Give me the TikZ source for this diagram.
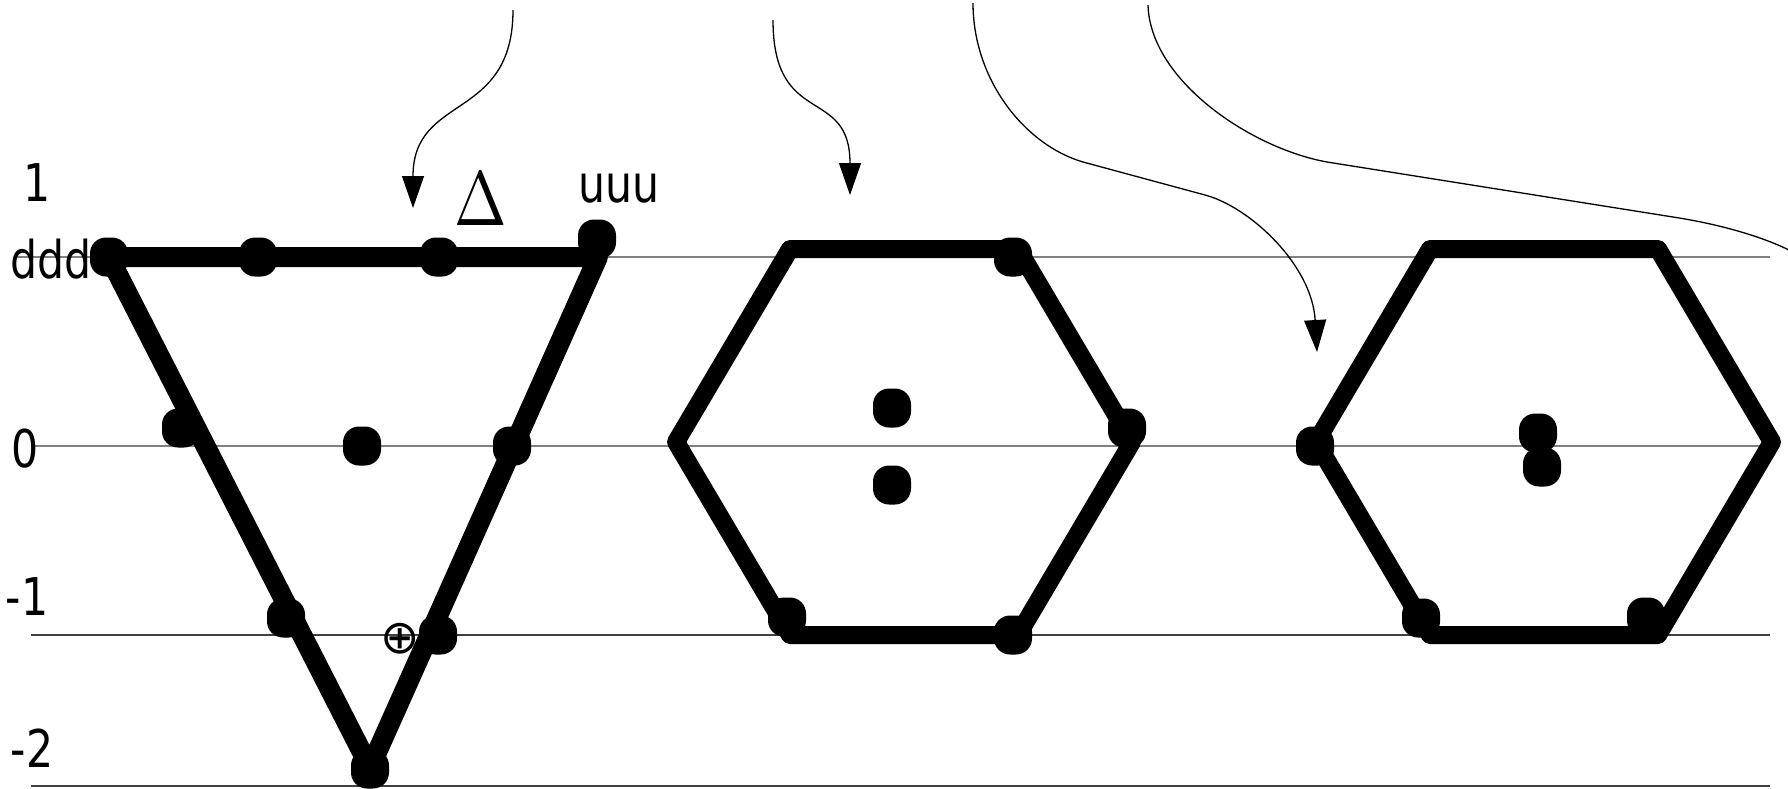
\documentclass[tikz,border=0pt]{standalone}
\usepackage[no-math]{fontspec}
\setmainfont{DejaVu Sans}
\usetikzlibrary{arrows.meta}
\definecolor{lvllight}{RGB}{128,128,128}
\definecolor{lvldark}{RGB}{64,64,64}
\begin{document}
\begin{tikzpicture}[x=1pt,y=-1pt,
  lvl/.style={line width=1.6pt},
  shapeedge/.style={line width=18pt, line join=round},
  triedge/.style={line width=20pt, line join=round},
  dotnode/.style={rectangle, fill=black, rounded corners=16pt, minimum width=38pt, minimum height=39pt, inner sep=0pt},
  curvearrow/.style={line width=1.3pt, -{Triangle[length=32pt,width=22pt]}},
  lab/.style={inner sep=0pt, anchor=base, font=\fontsize{52}{52}\selectfont},
]
\clip (0,0) rectangle (1788,788);
\fill[white] (0,0) rectangle (1788,788);

% level lines
\coordinate (l1a) at (14,257);  \coordinate (l1b) at (1770,257);
\coordinate (l0a) at (31,446);  \coordinate (l0b) at (1770,446);
\coordinate (lm1a) at (31,635); \coordinate (lm1b) at (1770,635);
\coordinate (lm2a) at (31,786); \coordinate (lm2b) at (1770,786);
\draw[lvl, lvllight] (l1a) -- (l1b);
\draw[lvl, lvllight] (l0a) -- (l0b);
\draw[lvl, lvldark] (lm1a) -- (lm1b);
\draw[lvl, lvldark] (lm2a) -- (lm2b);

% triangle
\coordinate (tA) at (109,257);
\coordinate (tB) at (598,257);
\coordinate (tC) at (370,768);
\draw[triedge] (tA) -- (tB) -- (tC) -- cycle;

% hexagon 1
\coordinate (h1l) at (676,442);
\coordinate (h1tl) at (790,249);
\coordinate (h1tr) at (1018,249);
\coordinate (h1r) at (1132,442);
\coordinate (h1br) at (1018,635);
\coordinate (h1bl) at (790,635);
\draw[shapeedge] (h1l) -- (h1tl) -- (h1tr) -- (h1r) -- (h1br) -- (h1bl) -- cycle;

% hexagon 2
\coordinate (h2l) at (1316,442);
\coordinate (h2tl) at (1430,249);
\coordinate (h2tr) at (1658,249);
\coordinate (h2r) at (1772,442);
\coordinate (h2br) at (1658,635);
\coordinate (h2bl) at (1430,635);
\draw[shapeedge] (h2l) -- (h2tl) -- (h2tr) -- (h2r) -- (h2br) -- (h2bl) -- cycle;

% dots on triangle
\node[dotnode] (t1) at (109,257) {};
\node[dotnode] (t2) at (258,257) {};
\node[dotnode] (t3) at (439,257) {};
\node[dotnode] (t4) at (597,239) {};
\node[dotnode] (t5) at (181,428) {};
\node[dotnode] (t6) at (362,446) {};
\node[dotnode] (t7) at (512,446) {};
\node[dotnode] (t8) at (286,618) {};
\node[dotnode] (t9) at (438,635) {};
\node[dotnode] (t10) at (370,769) {};

% dots on hexagon 1
\node[dotnode] (p1) at (1013,257) {};
\node[dotnode] (p2) at (1127,428) {};
\node[dotnode] (p3) at (892,408) {};
\node[dotnode] (p4) at (892,485) {};
\node[dotnode] (p5) at (787,617) {};
\node[dotnode] (p6) at (1013,635) {};

% dots on hexagon 2
\node[dotnode] (q1) at (1315,446) {};
\node[dotnode] (q2) at (1538,433) {};
\node[dotnode] (q3) at (1542,467) {};
\node[dotnode] (q4) at (1421,618) {};
\node[dotnode] (q5) at (1646,617) {};

% labels
\node[lab] (n1) at (37,201) {\scalebox{0.82}[1]{1}};
\node[lab] (nddd) at (51,278) {\scalebox{0.82}[1]{ddd}};
\node[lab] (n0) at (25,467) {\scalebox{0.82}[1]{0}};
\node[lab] (nm1) at (27,615) {\scalebox{0.82}[1]{-1}};
\node[lab] (nm2) at (32,767) {\scalebox{0.82}[1]{-2}};
\node[lab] (nuuu) at (619,202) {\scalebox{0.82}[1]{uuu}};
\node[inner sep=0pt, anchor=base] (delta) at (481,225) {\scalebox{6.3}[7.7]{$\Delta$}};
\node[inner sep=0pt, font=\fontsize{47}{47}\selectfont] (oplus) at (400,639) {⊕};

% curved arrows
\coordinate (c1s) at (513,10);  \coordinate (c1e) at (413,208);
\draw[curvearrow] (c1s) .. controls (513,122) and (413,93) .. (c1e);

\coordinate (c2s) at (773,20);  \coordinate (c2e) at (850,195);
\draw[curvearrow] (c2s) .. controls (773,129) and (850,85) .. (c2e);

\coordinate (c3s) at (973,3); \coordinate (c3m1) at (1083,162); \coordinate (c3m2) at (1205,195); \coordinate (c3e) at (1317,352);
\draw[curvearrow] (c3s) .. controls (973,80) and (1025,145) .. (c3m1) -- (c3m2) .. controls (1250,207) and (1312,265) .. (c3e);

\coordinate (c4s) at (1148,5); \coordinate (c4m1) at (1327,162); \coordinate (c4m2) at (1673,217); \coordinate (c4e) at (1830,275);
\draw[curvearrow] (c4s) .. controls (1150,80) and (1250,148) .. (c4m1) -- (c4m2) .. controls (1725,225) and (1775,240) .. (c4e);
\end{tikzpicture}
\end{document}
